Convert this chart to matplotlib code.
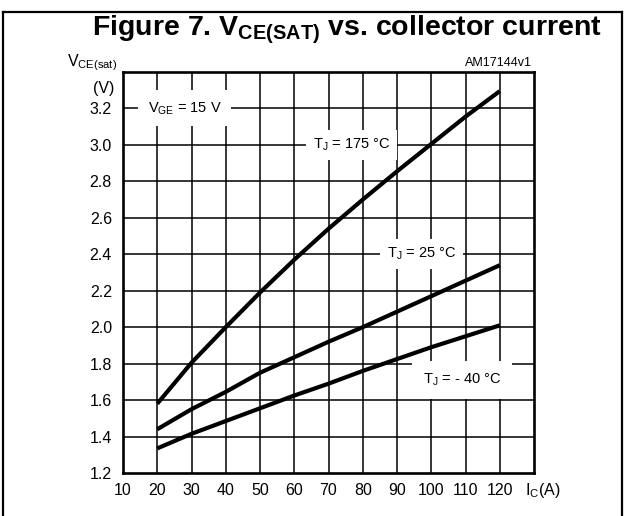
import matplotlib
matplotlib.use("Agg")
import matplotlib.pyplot as plt
from matplotlib.lines import Line2D

plt.rcParams['font.family'] = ['Liberation Sans', 'DejaVu Sans']
plt.rcParams['mathtext.fontset'] = 'custom'
plt.rcParams['mathtext.rm'] = 'Liberation Sans'
plt.rcParams['mathtext.it'] = 'Liberation Sans'
plt.rcParams['mathtext.bf'] = 'Liberation Sans:bold'

# collector current (A)
ic = [20, 30, 40, 50, 60, 70, 80, 90, 100, 110, 120]
# VCE(sat) (V) per junction temperature
v_175 = [1.58, 1.805, 2.0, 2.19, 2.37, 2.54, 2.70, 2.855, 3.005, 3.155, 3.295]
v_25 = [1.44, 1.55, 1.645, 1.75, 1.835, 1.92, 2.0, 2.085, 2.17, 2.255, 2.34]
v_m40 = [1.335, 1.415, 1.485, 1.555, 1.625, 1.69, 1.76, 1.825, 1.89, 1.95, 2.01]

xticks = [10, 20, 30, 40, 50, 60, 70, 80, 90, 100, 110, 120]
yticks = [1.2, 1.4, 1.6, 1.8, 2.0, 2.2, 2.4, 2.6, 2.8, 3.0, 3.2]

W, H = 625, 516
fig = plt.figure(figsize=(W / 100, H / 100), dpi=100)

def px(x, y):
    return x / W, 1 - y / H

# outer frame (left, top, right)
for xs, ys in [([3, 3], [12, 516]), ([3, 622], [12, 12]), ([622, 622], [12, 516])]:
    fig.add_artist(Line2D([x / W for x in xs], [1 - y / H for y in ys],
                          color='black', lw=1.6))

fig.text(*px(347, 35), r'Figure 7. V$\mathbf{_{CE(SAT)}}$ vs. collector current',
         fontsize=20.5, fontweight='bold', ha='center', va='baseline')

ax = fig.add_axes([123 / W, 43 / H, 411 / W, 401 / H])
ax.set_xlim(10, 130)
ax.set_ylim(1.2, 3.4)

for y in yticks[1:]:
    ax.axhline(y, color='black', lw=1.1, zorder=1)
for x in xticks[1:]:
    ax.axvline(x, color='black', lw=1.1, zorder=1)

for v in [v_175, v_25, v_m40]:
    ax.plot(ic, v, color='black', lw=3.0, solid_capstyle='butt', zorder=3)

box = dict(facecolor='white', edgecolor='none', pad=5)
ax.text(28, 3.2, r'$\mathregular{V_{GE}}$ = 15 V', fontsize=10.5,
        ha='center', va='center', bbox=dict(facecolor='white', edgecolor='none', pad=7), zorder=4)
ax.text(76.7, 3.0, r'$\mathregular{T_J}$ = 175 °C', fontsize=10.5,
        ha='center', va='center', bbox=box, zorder=4)
ax.text(97.2, 2.4, r'$\mathregular{T_J}$ = 25 °C', fontsize=10.5,
        ha='center', va='center', bbox=box, zorder=4)
ax.text(109, 1.71, r'$\mathregular{T_J}$ = - 40 °C', fontsize=10.5,
        ha='center', va='center', bbox=dict(facecolor='white', edgecolor='none', pad=8), zorder=4)

ax.set_xticks(xticks)
ax.set_xticklabels([str(t) for t in xticks])
ax.set_yticks(yticks)
ax.set_yticklabels(['%.1f' % t for t in yticks])
ax.tick_params(length=0, labelsize=11.5)
ax.tick_params(axis='x', pad=7)
ax.tick_params(axis='y', pad=8)
for s in ax.spines.values():
    s.set_linewidth(1.9)
    s.set_zorder(5)

fig.text(*px(117, 63), r'$\mathregular{V_{CE(sat)}}$', fontsize=11.5, ha='right', va='center')
fig.text(*px(114, 89), '(V)', fontsize=11.5, ha='right', va='center')
fig.text(*px(532, 63), 'AM17144v1', fontsize=9, ha='right', va='center')
fig.text(*px(525, 490), r'$\mathregular{I_C}$(A)', fontsize=11.5, ha='left', va='center')

fig.savefig('out.png', dpi=100)
